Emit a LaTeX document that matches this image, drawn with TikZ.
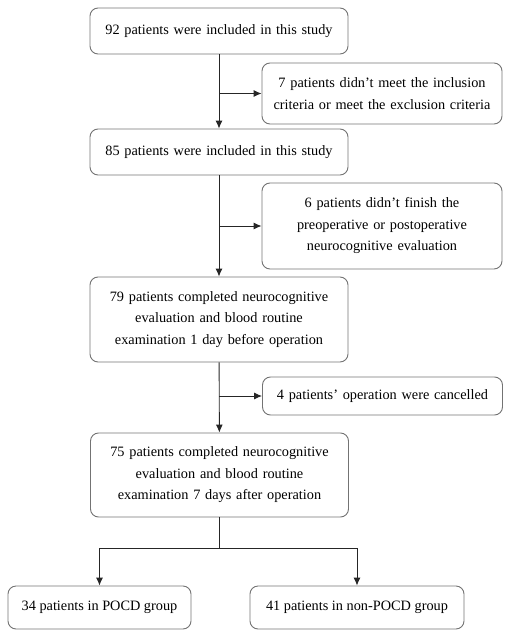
\documentclass[tikz,border=0pt]{standalone}
\usepackage{fontspec}
\setmainfont{Liberation Serif}
\usepackage{tikz}
\usetikzlibrary{arrows.meta,shapes,calc}

\begin{document}
\begin{tikzpicture}
[x = 1pt, y = 1pt, >={Latex[length=8pt, width=7pt]}]
\tikzset{
	step box/.style = {rectangle, rounded corners = 8, draw = black!55, line width = 0.9pt, align = center, inner sep = 0, font = \fontsize{14.3}{21.5}\selectfont},
	main box/.style = {step box, minimum width = 258, text width = 254},
	side box/.style = {step box, minimum width = 240, text width = 236},
	flow/.style = {->, draw = black!85, line width = 0.9pt},
}
\useasboundingbox (0,0) rectangle (510,-635);

\node(n92)[main box, minimum height = 46] at (219,-31) {92 patients were included in this study};
\node(e7)[side box, minimum height = 61] at (382,-93.5) {7 patients didn't meet the inclusion\\ criteria or meet the exclusion criteria};
\node(n85)[main box, minimum height = 46] at (219,-152) {85 patients were included in this study};
\node(e6)[side box, minimum height = 86] at (382,-226) {6 patients didn't finish the\\ preoperative or postoperative\\ neurocognitive evaluation};
\node(n79)[main box, minimum height = 85] at (219,-319.5) {79 patients completed neurocognitive\\ evaluation and blood routine\\ examination 1 day before operation};
\node(e4)[side box, minimum height = 38] at (382.5,-396) {4 patients' operation were cancelled};
\node(n75)[main box, minimum height = 84] at (219.5,-475) {75 patients completed neurocognitive\\ evaluation and blood routine\\ examination 7 days after operation};
\node(pocd)[step box, minimum width = 183, minimum height = 43] at (99.5,-607.5) {34 patients in POCD group};
\node(npocd)[step box, minimum width = 214, minimum height = 43] at (357,-607.5) {41 patients in non-POCD group};

\draw [flow] (n92) -- (n85);
\draw [flow] (n92.south |- e7.west) -- (e7.west);
\draw [flow] (n85) -- (n79);
\draw [flow] (n85.south |- e6.west) -- (e6.west);
\draw [flow] (n79) -- (n75);
\draw [flow] (n79.south |- e4.west) -- (e4.west);

\coordinate (split) at ($(n75.south)+(0,-31)$);
\draw [flow, -] (n75) -- (split);
\draw [flow] (split) -| (pocd);
\draw [flow] (split) -| (npocd);

\end{tikzpicture}
\end{document}
